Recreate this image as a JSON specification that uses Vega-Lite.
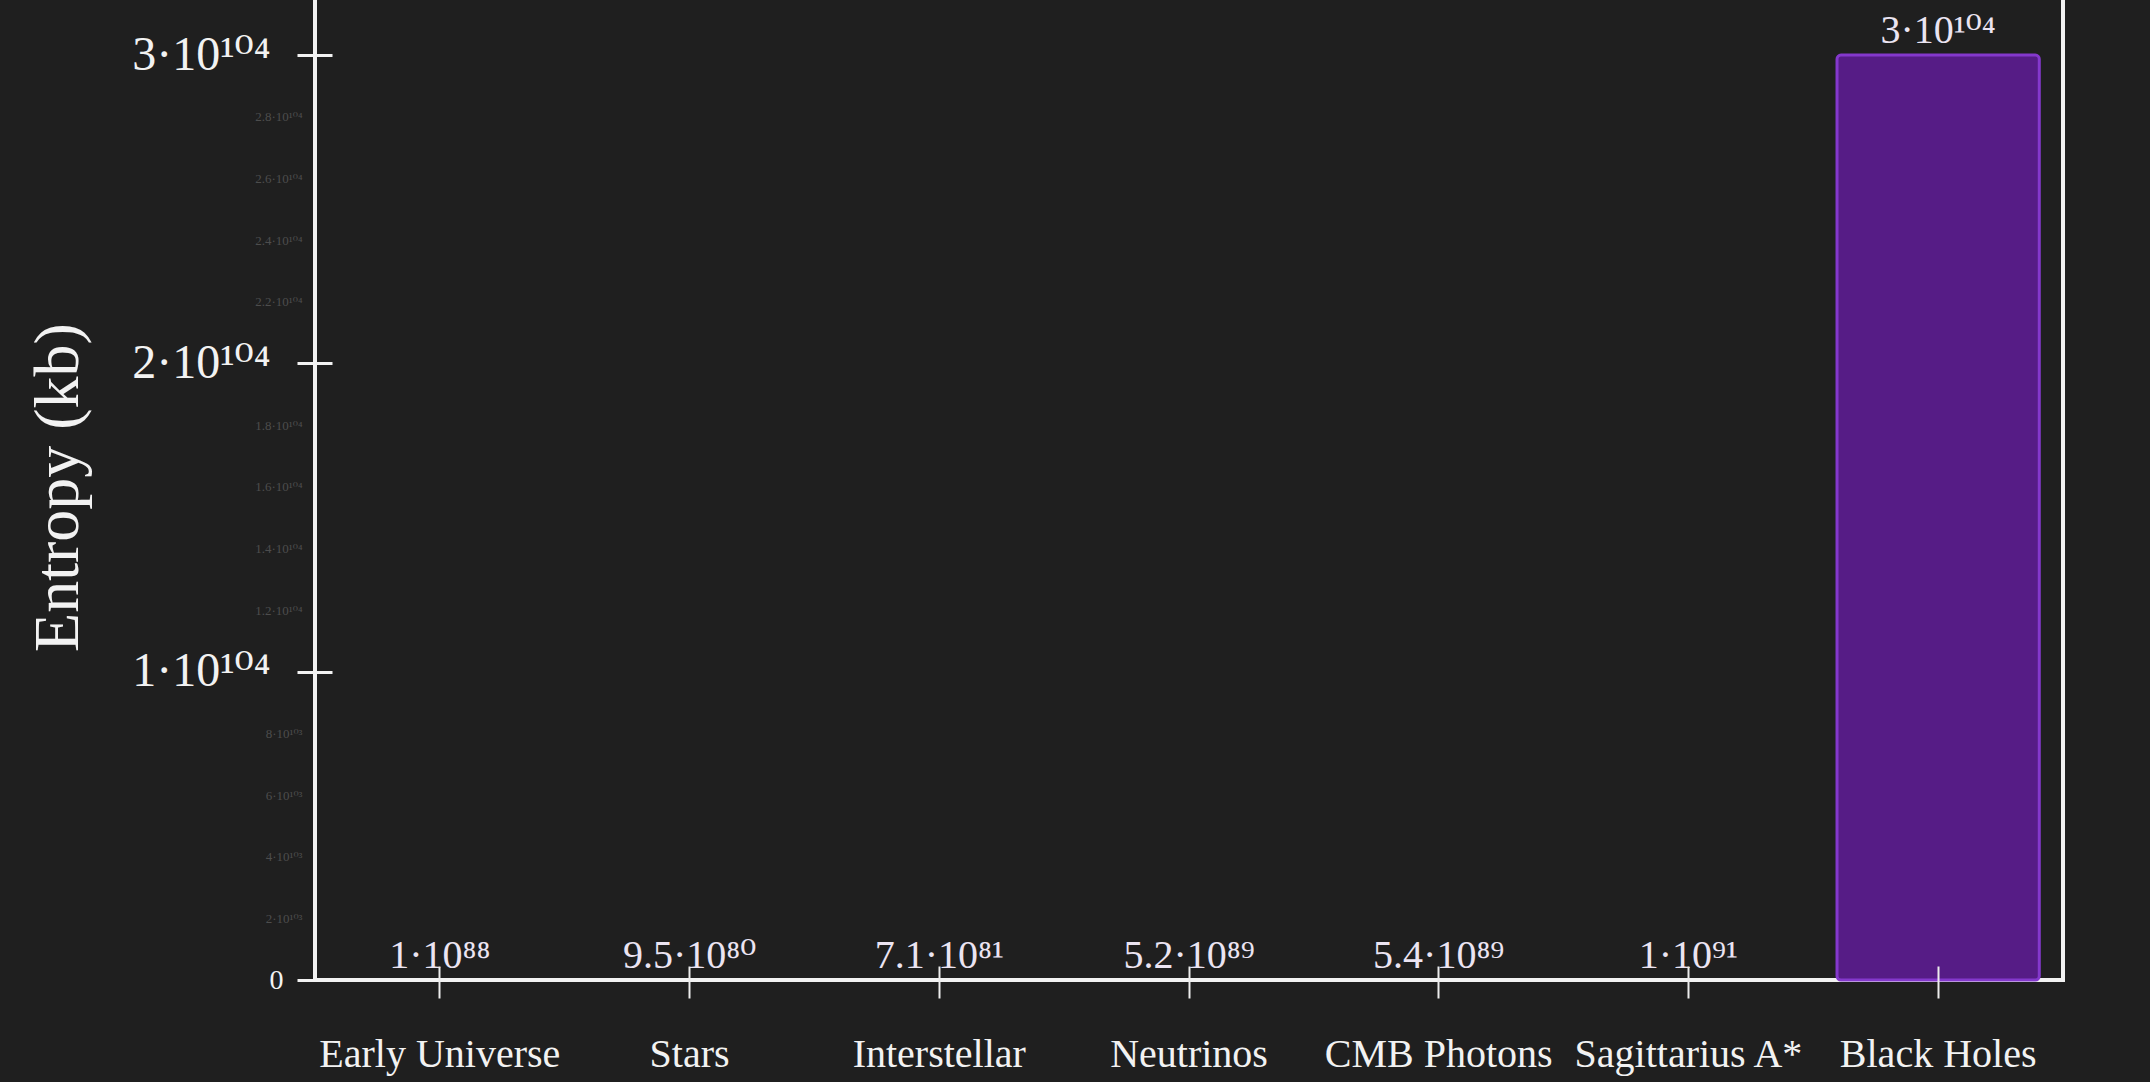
{
  "$schema": "https://vega.github.io/schema/vega-lite/v6.json",
  "autosize": "none",
  "width": 1748,
  "height": 986,
  "padding": {"left": 315, "top": -6, "right": 87, "bottom": 102},
  "background": "#1f1f1f",
  "config": {
    "view": {"stroke": "#f2f2f2", "strokeWidth": 4},
    "font": "Liberation Serif, DejaVu Serif"
  },
  "data": {
    "values": [
      {"source": "Early Universe", "entropy": 1e88, "label": "1·10⁸⁸"},
      {"source": "Stars", "entropy": 9.5e80, "label": "9.5·10⁸⁰"},
      {"source": "Interstellar", "entropy": 7.1e81, "label": "7.1·10⁸¹"},
      {"source": "Neutrinos", "entropy": 5.2e89, "label": "5.2·10⁸⁹"},
      {"source": "CMB Photons", "entropy": 5.4e89, "label": "5.4·10⁸⁹"},
      {"source": "Sagittarius A*", "entropy": 1e91, "label": "1·10⁹¹"},
      {"source": "Black Holes", "entropy": 3e104, "label": "3·10¹⁰⁴"}
    ]
  },
  "layer": [
    {
      "mark": {
        "type": "bar",
        "color": "#561c86",
        "stroke": "#8438cc",
        "strokeWidth": 3,
        "cornerRadius": 4
      },
      "encoding": {
        "x": {
          "field": "source",
          "type": "nominal",
          "sort": null,
          "scale": {"paddingInner": 0.19, "paddingOuter": 0.095},
          "axis": {
            "orient": "bottom",
            "title": null,
            "domain": false,
            "zindex": 1,
            "offset": -14,
            "tickSize": 32,
            "tickWidth": 2,
            "tickColor": "#ececec",
            "labelAngle": 0,
            "labelFont": "Liberation Serif",
            "labelFontSize": 40,
            "labelColor": "#f2f2f2",
            "labelPadding": 36,
            "labelLimit": 0
          }
        },
        "y": {
          "field": "entropy",
          "type": "quantitative",
          "stack": null,
          "scale": {"domain": [0, 3.198e104], "nice": false, "zero": true},
          "axis": {
            "orient": "left",
            "values": [0, 1e104, 2e104, 3e104],
            "labelExpr": "datum.value == 0 ? '0' : round(datum.value / 1e104) + '·10¹⁰⁴'",
            "domain": false,
            "grid": false,
            "offset": -17,
            "tickSize": 35,
            "tickWidth": 3,
            "tickColor": "#f2f2f2",
            "labelFont": "Liberation Serif, DejaVu Serif",
            "labelColor": "#f2f2f2",
            "labelFontSize": {"condition": {"test": "datum.value == 0", "value": 28}, "value": 48},
            "labelPadding": {"condition": {"test": "datum.value == 0", "value": 14}, "value": 27},
            "title": "Entropy (kb)",
            "titleFont": "Liberation Serif",
            "titleFontSize": 64,
            "titleFontWeight": "normal",
            "titleColor": "#f2f2f2",
            "titlePadding": 42
          }
        },
        "opacity": {
          "condition": {"test": "datum.source == 'Black Holes'", "value": 1},
          "value": 0
        }
      }
    },
    {
      "mark": {
        "type": "text",
        "baseline": "alphabetic",
        "dy": -12,
        "fontSize": 40,
        "font": "Liberation Serif, DejaVu Serif",
        "color": "#ebe4f2"
      },
      "encoding": {
        "x": {"field": "source", "type": "nominal", "sort": null},
        "y": {
          "field": "entropy",
          "type": "quantitative",
          "axis": {
            "orient": "left",
            "values": [2e103, 4e103, 6e103, 8e103, 1.2e104, 1.4e104, 1.6e104, 1.8e104, 2.2e104, 2.4e104, 2.6e104, 2.8e104],
            "labelExpr": "datum.value < 1e104 ? round(datum.value / 1e103) + '·10¹⁰³' : format(datum.value / 1e104, '.1f') + '·10¹⁰⁴'",
            "domain": false,
            "ticks": false,
            "grid": false,
            "labelFont": "Liberation Serif, DejaVu Serif",
            "labelFontSize": 13,
            "labelColor": "#4d4d4d",
            "labelPadding": 13,
            "title": null
          }
        },
        "text": {"field": "label"}
      }
    }
  ],
  "resolve": {"axis": {"y": "independent"}}
}
